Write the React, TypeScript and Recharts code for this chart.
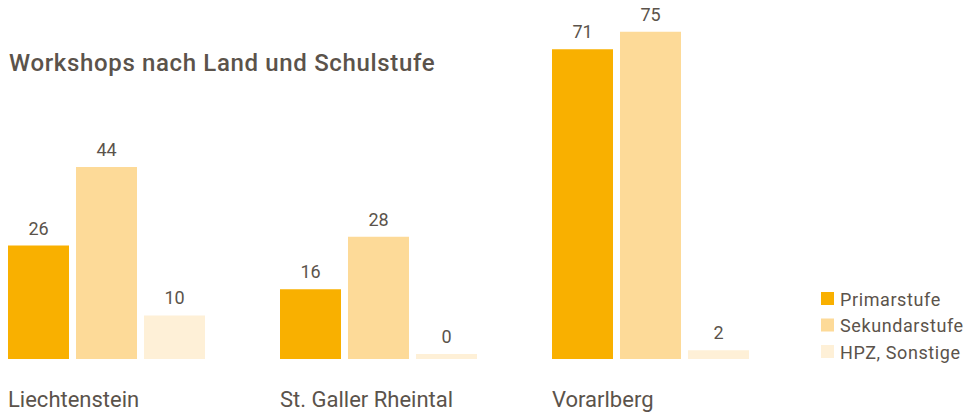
import React from "react";
import { BarChart, Bar, XAxis, YAxis, LabelList } from "recharts";

const regions = ["Liechtenstein", "St. Galler Rheintal", "Vorarlberg"];
const primarstufe = [26, 16, 71];
const sekundarstufe = [44, 28, 75];
const hpzSonstige = [10, 0, 2];

const SERIES = [
  { key: "primar", label: "Primarstufe", color: "#F9B000" },
  { key: "sekundar", label: "Sekundarstufe", color: "#FDDA98" },
  { key: "hpz", label: "HPZ, Sonstige", color: "#FEF0D7" },
];

const TEXT = "#5B534B";
const FONT = "Roboto, 'Noto Sans', sans-serif";

const data = regions.map((r, i) => ({
  region: r,
  primar: primarstufe[i],
  sekundar: sekundarstufe[i],
  hpz: hpzSonstige[i],
}));

// left-aligned region label under each bar group
function RegionTick({ x, payload }: any) {
  return (
    <text x={x - 99} y={407} textAnchor="start" fill={TEXT} fontSize={22} fontFamily={FONT}>
      {payload.value}
    </text>
  );
}

export default function App() {
  return (
    <div style={{ position: "absolute", left: 0, top: 0, width: 968, height: 412, background: "#fff" }}>
      <BarChart
        width={968}
        height={412}
        data={data}
        margin={{ top: 10, right: 181, bottom: 0, left: -29 }}
        barCategoryGap={37}
        barGap={7}
      >
        <XAxis
          dataKey="region"
          axisLine={false}
          tickLine={false}
          height={53}
          tick={<RegionTick />}
          interval={0}
        />
        <YAxis hide domain={[0, 80]} />
        {SERIES.map((s) => (
          <Bar key={s.key} dataKey={s.key} fill={s.color} minPointSize={5} isAnimationActive={false}>
            <LabelList
              dataKey={s.key}
              position="top"
              offset={11}
              fill={TEXT}
              fontSize={18}
              fontFamily={FONT}
            />
          </Bar>
        ))}
      </BarChart>

      {/* Title + legend overlay */}
      <svg width={968} height={412} style={{ position: "absolute", left: 0, top: 0, pointerEvents: "none" }}>
        <text x={9} y={71} fill={TEXT} fontSize={24} fontWeight={500} letterSpacing={0.65} fontFamily={FONT}>
          Workshops nach Land und Schulstufe
        </text>
        {SERIES.map((s, i) => (
          <g key={s.key} transform={`translate(821, ${292 + i * 26.5})`}>
            <rect x={0} y={0} width={13} height={13} fill={s.color} />
            <text x={19} y={13.5} fill={TEXT} fontSize={18} letterSpacing={0.6} fontFamily={FONT}>
              {s.label}
            </text>
          </g>
        ))}
      </svg>
    </div>
  );
}
